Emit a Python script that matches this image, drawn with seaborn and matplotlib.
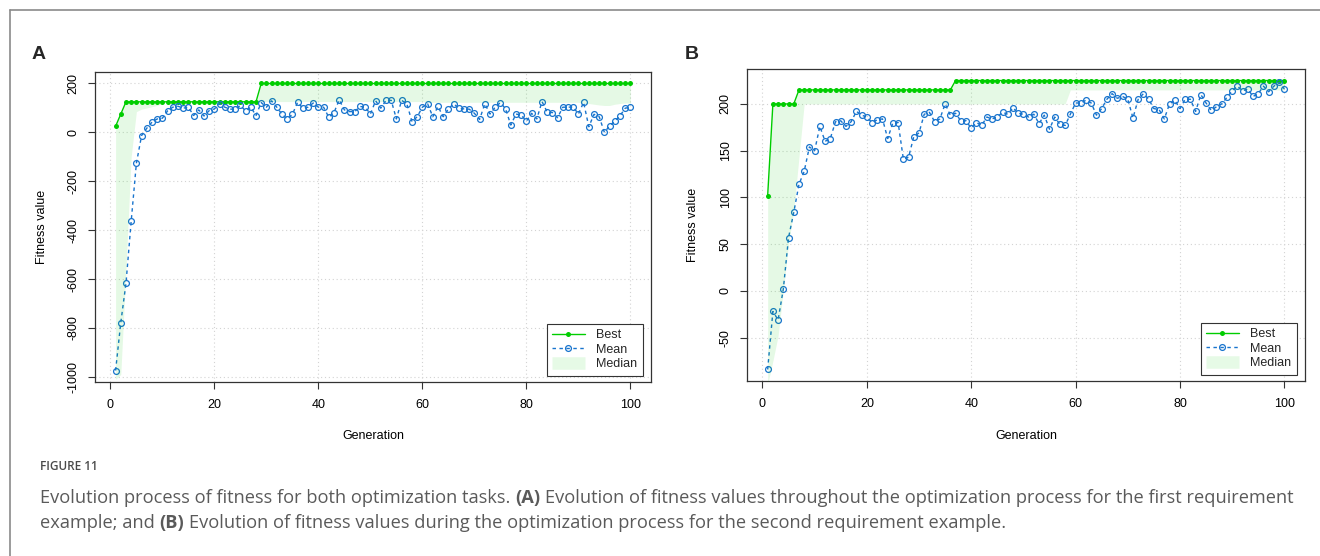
import matplotlib
matplotlib.use("Agg")
import matplotlib.pyplot as plt
import numpy as np
import seaborn as sns
from matplotlib.lines import Line2D

W, H = 1320, 556

gens = list(range(1, 101))

# panel A: first requirement example
best_a = [25, 75] + [125] * 26 + [200] * 72
mean_a = [-974, -778, -617, -363, -126, -13, 17, 42, 55, 58,
          88, 103, 107, 99, 103, 69, 92, 67, 89, 96,
          117, 103, 95, 95, 110, 88, 103, 69, 122, 103,
          129, 103, 74, 55, 74, 123, 99, 103, 120, 103,
          103, 62, 81, 133, 92, 85, 85, 106, 103, 75,
          129, 99, 131, 131, 55, 131, 117, 44, 64, 103,
          117, 64, 106, 64, 96, 117, 99, 96, 95, 78,
          53, 117, 75, 103, 122, 96, 30, 75, 71, 46,
          78, 55, 126, 83, 81, 60, 103, 103, 104, 75,
          123, 23, 74, 64, 0, 27, 46, 68, 99, 103]
median_a = ([-1010, -990, -560, -100, 85, 95, 100, 105, 110, 118]
            + [125] * 18 + [126] * 32 + [123] * 30
            + [118, 118, 115, 112, 110, 110, 115, 118, 120, 120])

# panel B: second requirement example
best_b = [102] + [200] * 5 + [215] * 30 + [225] * 64
mean_b = [-84, -22, -31, 2, 57, 84, 114, 128, 154, 150,
          176, 160, 163, 181, 182, 176, 181, 192, 188, 186,
          180, 183, 184, 163, 180, 180, 141, 143, 165, 169,
          189, 191, 181, 184, 200, 188, 190, 182, 182, 174,
          180, 177, 186, 184, 186, 191, 189, 196, 190, 189,
          186, 189, 179, 188, 173, 186, 178, 177, 189, 201,
          201, 204, 201, 188, 195, 205, 211, 206, 208, 205,
          185, 205, 211, 205, 195, 194, 184, 200, 204, 195,
          205, 205, 192, 210, 201, 193, 197, 200, 207, 214,
          219, 214, 216, 208, 211, 219, 213, 219, 223, 216]
median_b = [-100, -75, -48, 0, 50, 86, 143] + [200] * 51 + [215] * 42

yticks_a = [-1000, -800, -600, -400, -200, 0, 200]
yticks_b = [-50, 0, 50, 100, 150, 200]
xticks = [0, 20, 40, 60, 80, 100]

GREEN = "#00CD00"
BLUE = "#1874CD"
BAND = "#E6FAE6"

sns.set_theme(style="white")
plt.rcParams["font.family"] = ["Liberation Sans", "DejaVu Sans"]
plt.rcParams["axes.unicode_minus"] = False


def ga_panel(ax, best, mean, median, yticks):
    ax.set_xlim(1 - 0.04 * 99, 100 + 0.04 * 99)
    lo = max(min(mean), min(median))
    hi = max(best)
    ax.set_ylim(lo - 0.04 * (hi - lo), hi + 0.04 * (hi - lo))
    ax.set_xticks(xticks)
    ax.set_yticks(yticks)
    for t in xticks:
        ax.axvline(t, color="#d3d3d3", ls=(0, (1, 2.5)), lw=0.8, zorder=1)
    for t in yticks:
        ax.axhline(t, color="#d3d3d3", ls=(0, (1, 2.5)), lw=0.8, zorder=1)
    sns.lineplot(x=gens, y=best, ax=ax, color=GREEN, lw=1.0, marker="o",
                 markersize=3.6, markeredgewidth=0, zorder=2)
    sns.lineplot(x=gens, y=mean, ax=ax, color=BLUE, lw=1.0, ls=(0, (2.5, 2.5)),
                 marker="o", markersize=4.2, markerfacecolor="none",
                 markeredgecolor=BLUE, markeredgewidth=0.9, zorder=2)
    ax.fill_between(gens, median, best, color=GREEN, alpha=0.1, lw=0, zorder=3)

    for s in ax.spines.values():
        s.set_color("#333333")
        s.set_linewidth(0.9)
    ax.tick_params(axis="both", which="both", direction="out", length=5,
                   width=0.8, color="#333333", labelsize=9, labelcolor="black",
                   bottom=True, left=True, top=False, right=False)
    ax.tick_params(axis="x", pad=7)
    ax.tick_params(axis="y", pad=6)
    for lab in ax.get_yticklabels():
        lab.set_rotation(90)
        lab.set_va("center")
    ax.set_xlabel("Generation", fontsize=9, color="black")
    ax.set_ylabel("Fitness value", fontsize=9, color="black")
    ax.grid(False)

    handles = [
        Line2D([], [], color=GREEN, lw=1, marker="o", ms=3.6, mew=0, label="Best"),
        Line2D([], [], color=BLUE, lw=1, ls=(0, (2.5, 2.5)), marker="o", ms=4.2,
               mfc="none", mec=BLUE, mew=0.9, label="Mean"),
        Line2D([], [], color=BAND, lw=9, solid_capstyle="butt", label="Median"),
    ]
    leg = ax.legend(handles=handles, loc="lower right", bbox_to_anchor=(0.985, 0.02),
                    fontsize=9, frameon=True, fancybox=False, framealpha=1,
                    edgecolor="#333333", handlelength=2.6, handletextpad=0.9,
                    borderpad=0.45, labelspacing=0.2, borderaxespad=0)
    leg.get_frame().set_linewidth(0.8)


fig = plt.figure(figsize=(W / 100, H / 100), dpi=100)
fig.patch.set_facecolor("white")

ax_a = fig.add_axes([95 / W, 1 - 382 / H, 556 / W, 310 / H])
ax_b = fig.add_axes([747 / W, 1 - 381 / H, 558 / W, 312 / H])

ga_panel(ax_a, best_a, mean_a, median_a, yticks_a)
ga_panel(ax_b, best_b, mean_b, median_b, yticks_b)

ax_a.yaxis.set_label_coords((42 - 95) / 556, 0.5)
ax_a.xaxis.set_label_coords(0.5, (382 - 436) / 310)
ax_b.yaxis.set_label_coords((693 - 747) / 558, 0.5)
ax_b.xaxis.set_label_coords(0.5, (381 - 436) / 312)
for a in (ax_a, ax_b):
    a.xaxis.label.set_va("center")
    a.yaxis.label.set_va("center")

# panel letters
fig.text(32 / W, 1 - 54 / H, "A", fontsize=14, fontweight="bold", va="center", ha="left")
fig.text(685 / W, 1 - 54 / H, "B", fontsize=14, fontweight="bold", va="center", ha="left")

# frame of the figure box (left and top edges visible)
fig.add_artist(Line2D([10 / W, 10 / W], [0, 1 - 10 / H], transform=fig.transFigure,
                      color="#8a8a8a", lw=1.2))
fig.add_artist(Line2D([10 / W, 1], [1 - 10 / H, 1 - 10 / H], transform=fig.transFigure,
                      color="#8a8a8a", lw=1.2))

# caption
CAP = "#5a5a5a"
CAPFONT = ["Open Sans", "DejaVu Sans"]
fig.text(40 / W, 1 - 467 / H, "FIGURE 11", fontsize=8.5, fontweight="semibold",
         color="#4a4a4a", va="center", ha="left", family=CAPFONT)

line1 = [("Evolution process of fitness for both optimization tasks.", "normal"),
         ("(A)", "bold"),
         ("Evolution of fitness values throughout the optimization process for the first requirement", "normal")]
line2 = [("example; and", "normal"),
         ("(B)", "bold"),
         ("Evolution of fitness values during the optimization process for the second requirement example.", "normal")]

renderer = fig.canvas.get_renderer()


def text_width(s, size, weight):
    t = fig.text(0, 0, s, fontsize=size, fontweight=weight, family=CAPFONT)
    w = t.get_window_extent(renderer=renderer).width
    t.remove()
    return w


def line_width(parts, size):
    sp = text_width("a a", size, "normal") - text_width("aa", size, "normal")
    return sum(text_width(s, size, w) for s, w in parts) + sp * (len(parts) - 1), sp


w12, _ = line_width(line1, 12)
cap_size = 12 * (1288 - 40) / w12


def draw_line(parts, y):
    _, sp = line_width(parts, cap_size)
    x = 40
    for s, w in parts:
        fig.text(x / W, 1 - y / H, s, fontsize=cap_size, fontweight=w, color=CAP,
                 va="center", ha="left", family=CAPFONT)
        x += text_width(s, cap_size, w) + sp


draw_line(line1, 498)
draw_line(line2, 523)

fig.savefig("out.png", dpi=100)
